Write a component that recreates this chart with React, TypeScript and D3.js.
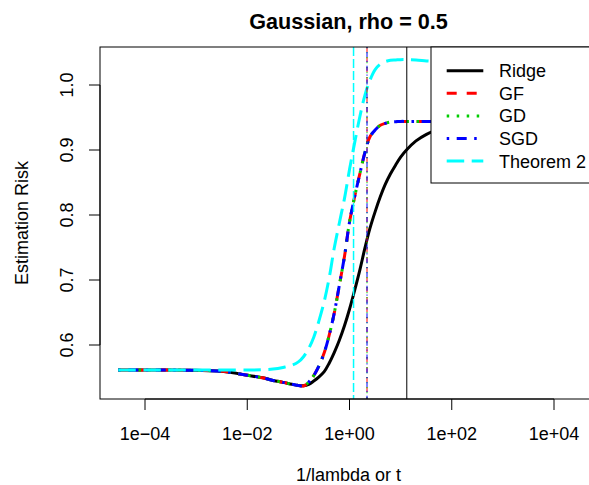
import * as d3 from 'd3'

// x grid (1/lambda or t), shared by every curve
const tGrid = [
  3e-5, 1e-4, 3.2e-4, 1e-3, 3.2e-3, 0.01, 0.02, 0.032, 0.05, 0.075,
  0.1, 0.126, 0.16, 0.2, 0.25, 0.32, 0.4, 0.5, 0.63, 0.8,
  1, 1.26, 1.6, 2, 2.5, 3.2, 4, 5, 6.3, 8,
  10, 13, 20, 32, 50, 100, 316, 1000, 1e4, 3e4,
]

const ridgeRisk = [
  0.5615, 0.5615, 0.5615, 0.561, 0.5595, 0.5535, 0.5495, 0.5455, 0.5425, 0.5395,
  0.5378, 0.5372, 0.5395, 0.5445, 0.5505, 0.559, 0.572, 0.588, 0.607, 0.63,
  0.655, 0.684, 0.716, 0.749, 0.779, 0.806, 0.828, 0.847, 0.863, 0.877,
  0.889, 0.9, 0.914, 0.924, 0.931, 0.937, 0.941, 0.943, 0.944, 0.944,
]

const gfRisk = [
  0.5615, 0.5615, 0.5615, 0.561, 0.5595, 0.5535, 0.5495, 0.5455, 0.5425, 0.5395,
  0.5378, 0.537, 0.543, 0.553, 0.567, 0.588, 0.615, 0.648, 0.691, 0.737,
  0.789, 0.828, 0.864, 0.896, 0.92, 0.931, 0.938, 0.941, 0.943, 0.9435,
  0.944, 0.944, 0.944, 0.944, 0.944, 0.944, 0.944, 0.944, 0.944, 0.944,
]
const gdRisk = gfRisk
const sgdRisk = gfRisk

const theoremRisk = [
  0.5615, 0.5615, 0.5615, 0.5615, 0.5615, 0.5615, 0.562, 0.563, 0.5655, 0.569,
  0.574, 0.582, 0.595, 0.612, 0.636, 0.667, 0.703, 0.748, 0.787, 0.826,
  0.87, 0.911, 0.952, 0.984, 1.007, 1.024, 1.032, 1.036, 1.038, 1.0385,
  1.039, 1.039, 1.0385, 1.037, 1.036, 1.035, 1.034, 1.0335, 1.033, 1.033,
]

// chosen stopping points (vertical lines)
const vlineT = { ridge: 13.2, gf: 2.2, gd: 2.2, sgd: 2.2, theorem: 1.2 }

const xTicks = [1e-4, 1e-2, 1, 1e2, 1e4]
const xTickLabels = ['1e\u221204', '1e\u221202', '1e+00', '1e+02', '1e+04']
const yTicks = [0.6, 0.7, 0.8, 0.9, 1.0]

const series = [
  { name: 'Ridge', values: ridgeRisk, color: '#000000', dash: null, vdash: null, vline: vlineT.ridge },
  { name: 'GF', values: gfRisk, color: '#FF0000', dash: '10,10', vdash: '5,5', vline: vlineT.gf },
  { name: 'GD', values: gdRisk, color: '#00CD00', dash: '2.5,7.5', vdash: '1.25,3.75', vline: vlineT.gd },
  { name: 'SGD', values: sgdRisk, color: '#0000FF', dash: '2.5,7.5,10,7.5', vdash: '1.25,3.75,5,3.75', vline: vlineT.sgd },
  { name: 'Theorem 2', values: theoremRisk, color: '#00FFFF', dash: '17.5,7.5', vdash: '9,3', vline: vlineT.theorem },
]

const W = 589
const H = 485
const plot = { left: 100, right: 597, top: 47, bottom: 399 }
const font = '"Liberation Sans", Arial, Helvetica, sans-serif'

export default function App() {
  const x = d3.scaleLog().domain([1e-4, 1e4]).range([145, 554])
  const y = d3.scaleLinear().domain([0.6, 1.0]).range([345, 85])

  const line = d3
    .line<number>()
    .x((_, i) => x(tGrid[i]))
    .y((d) => y(d))
    .curve(d3.curveCatmullRom.alpha(0.5))

  const legend = { left: 431, top: 47, right: 597, bottom: 183, row0: 70.7, rowGap: 22.6 }
  const midX = (plot.left + plot.right) / 2

  return (
    <svg width={W} height={H} style={{ position: 'absolute', left: 0, top: 0, background: '#fff' }} fontFamily={font}>
      <defs>
        <clipPath id="plotClip">
          <rect x={plot.left} y={plot.top} width={plot.right - plot.left} height={plot.bottom - plot.top} />
        </clipPath>
      </defs>

      <text x={midX} y={29} textAnchor="middle" fontSize={21.6} fontWeight="bold">
        Gaussian, rho = 0.5
      </text>

      <g clipPath="url(#plotClip)">
        {series.map((s) => (
          <path key={s.name} d={line(s.values) ?? ''} fill="none" stroke={s.color} strokeWidth={3}
            strokeDasharray={s.dash ?? undefined} />
        ))}
        {series.map((s) => (
          <line key={'v' + s.name} x1={x(s.vline)} x2={x(s.vline)} y1={plot.top} y2={plot.bottom}
            stroke={s.color} strokeWidth={s.name === 'Theorem 2' ? 1.5 : 1} strokeDasharray={s.vdash ?? undefined} />
        ))}
      </g>

      <rect x={plot.left} y={plot.top} width={plot.right - plot.left} height={plot.bottom - plot.top}
        fill="none" stroke="#000" strokeWidth={1} />

      {/* x axis */}
      <line x1={x(xTicks[0])} x2={x(xTicks[xTicks.length - 1])} y1={plot.bottom} y2={plot.bottom} stroke="#000" />
      {xTicks.map((t, i) => (
        <g key={t}>
          <line x1={x(t)} x2={x(t)} y1={plot.bottom} y2={plot.bottom + 11} stroke="#000" />
          <text x={x(t)} y={440} textAnchor="middle" fontSize={18}>{xTickLabels[i]}</text>
        </g>
      ))}
      <text x={midX} y={481} textAnchor="middle" fontSize={18}>1/lambda or t</text>

      {/* y axis */}
      <line x1={plot.left} x2={plot.left} y1={y(yTicks[0])} y2={y(yTicks[yTicks.length - 1])} stroke="#000" />
      {yTicks.map((t) => (
        <g key={t}>
          <line x1={plot.left} x2={plot.left - 11} y1={y(t)} y2={y(t)} stroke="#000" />
          <text transform={`translate(72.7,${y(t)}) rotate(-90)`} textAnchor="middle" fontSize={18}>
            {t.toFixed(1)}
          </text>
        </g>
      ))}
      <text transform={`translate(28.3,${(plot.top + plot.bottom) / 2}) rotate(-90)`} textAnchor="middle" fontSize={18}>
        Estimation Risk
      </text>

      {/* legend */}
      <rect x={legend.left} y={legend.top} width={legend.right - legend.left} height={legend.bottom - legend.top}
        fill="#fff" stroke="#000" strokeWidth={1} />
      {series.map((s, i) => {
        const ly = legend.row0 + i * legend.rowGap
        return (
          <g key={'l' + s.name}>
            <line x1={446.7} x2={483.3} y1={ly} y2={ly} stroke={s.color} strokeWidth={3}
              strokeDasharray={s.dash ?? undefined} />
            <text x={499} y={ly + 6.5} fontSize={18}>{s.name}</text>
          </g>
        )
      })}
    </svg>
  )
}
